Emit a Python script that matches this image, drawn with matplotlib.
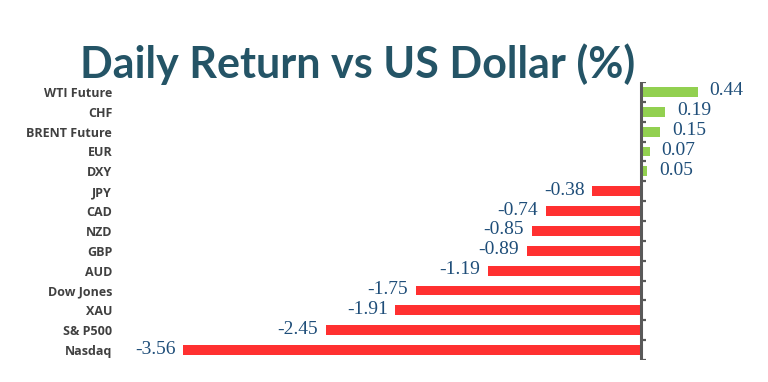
import numpy as np
import matplotlib
matplotlib.use("Agg")
import matplotlib.pyplot as plt

categories = ['WTI Future', 'CHF', 'BRENT Future', 'EUR', 'DXY', 'JPY', 'CAD',
              'NZD', 'GBP', 'AUD', 'Dow Jones', 'XAU', 'S& P500', 'Nasdaq']
values = [0.44, 0.19, 0.15, 0.07, 0.05, -0.38, -0.74,
          -0.85, -0.89, -1.19, -1.75, -1.91, -2.45, -3.56]

green = '#92D050'
red = '#FF3030'
colors = [green if v > 0 else red for v in values]

fig = plt.figure(figsize=(7.68, 3.82), dpi=100)
# axes spans y from 360 px (bottom) to 82 px (top)
ax = fig.add_axes([115 / 768, 22 / 382, 645 / 768, 278 / 382])

y = np.arange(len(categories))
ax.barh(y, values, height=0.5, color=colors, zorder=2)
ax.set_ylim(len(categories) - 0.5, -0.5)
ax.set_xlim(-4.09, 0.925)

for s in ax.spines.values():
    s.set_visible(False)
ax.set_xticks([])
ax.set_yticks(y)
ax.set_yticklabels(categories, fontsize=9, fontweight='bold', color='#404040',
                   family='Open Sans')
ax.tick_params(axis='y', length=0, pad=2)

# zero axis with small tick marks at category boundaries
ax.axvline(0, color='#595959', lw=2.2, zorder=3)
for b in np.arange(-0.5, len(categories), 1.0):
    ax.plot([0, 0.04], [b, b], color='#595959', lw=1.6, zorder=3,
            solid_capstyle='butt')

for yi, v in zip(y, values):
    if v > 0:
        ax.text(v + 0.09, yi - 0.05, f'{v:.2f}', ha='left', va='center',
                fontsize=14, color='#1F4E79', family='Liberation Serif')
    else:
        ax.text(v - 0.06, yi - 0.05, f'{v:.2f}', ha='right', va='center',
                fontsize=14, color='#1F4E79', family='Liberation Serif')

fig.text(358 / 768, 1 - 64 / 382, 'Daily Return vs US Dollar (%)', ha='center',
         va='center', fontsize=31, fontweight='bold', color='#245466',
         family='Lato')

fig.savefig('out.png', dpi=100)
